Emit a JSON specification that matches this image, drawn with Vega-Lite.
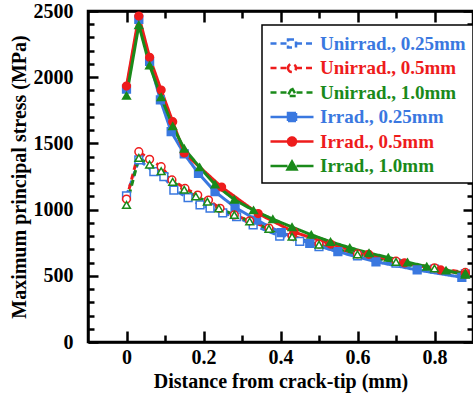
{
  "$schema": "https://vega.github.io/schema/vega-lite/v6.json",
  "width": 385,
  "height": 331,
  "autosize": {"type": "none"},
  "padding": {"left": 88, "top": 11, "right": 0, "bottom": 56},
  "config": {
    "view": {"stroke": "black", "strokeWidth": 2.5},
    "font": "Liberation Serif",
    "axis": {
      "domainColor": "black", "domainWidth": 2.5,
      "tickColor": "black", "tickWidth": 2.5,
      "labelFont": "Liberation Serif", "labelFontWeight": "bold", "labelFontSize": 20, "labelColor": "black",
      "titleFont": "Liberation Serif", "titleFontWeight": "bold", "titleFontSize": 20, "titleColor": "black",
      "grid": false
    }
  },
  "data": {"values": [
    {"s": "Unirrad., 0.25mm", "x": 0, "y": 1103},
    {"s": "Unirrad., 0.25mm", "x": 0.032, "y": 1375},
    {"s": "Unirrad., 0.25mm", "x": 0.071, "y": 1286},
    {"s": "Unirrad., 0.25mm", "x": 0.097, "y": 1249},
    {"s": "Unirrad., 0.25mm", "x": 0.123, "y": 1148},
    {"s": "Unirrad., 0.25mm", "x": 0.16, "y": 1090},
    {"s": "Unirrad., 0.25mm", "x": 0.191, "y": 1035},
    {"s": "Unirrad., 0.25mm", "x": 0.217, "y": 1012},
    {"s": "Unirrad., 0.25mm", "x": 0.25, "y": 975},
    {"s": "Unirrad., 0.25mm", "x": 0.286, "y": 946},
    {"s": "Unirrad., 0.25mm", "x": 0.329, "y": 884},
    {"s": "Unirrad., 0.25mm", "x": 0.398, "y": 800},
    {"s": "Unirrad., 0.25mm", "x": 0.45, "y": 760},
    {"s": "Unirrad., 0.25mm", "x": 0.5, "y": 720},
    {"s": "Unirrad., 0.25mm", "x": 0.6, "y": 650},
    {"s": "Unirrad., 0.25mm", "x": 0.7, "y": 595},
    {"s": "Unirrad., 0.25mm", "x": 0.8, "y": 550},
    {"s": "Unirrad., 0.25mm", "x": 0.88, "y": 515},
    {"s": "Unirrad., 0.5mm", "x": 0, "y": 1080},
    {"s": "Unirrad., 0.5mm", "x": 0.032, "y": 1437},
    {"s": "Unirrad., 0.5mm", "x": 0.06, "y": 1380},
    {"s": "Unirrad., 0.5mm", "x": 0.09, "y": 1324},
    {"s": "Unirrad., 0.5mm", "x": 0.118, "y": 1224},
    {"s": "Unirrad., 0.5mm", "x": 0.152, "y": 1160},
    {"s": "Unirrad., 0.5mm", "x": 0.185, "y": 1110},
    {"s": "Unirrad., 0.5mm", "x": 0.213, "y": 1072},
    {"s": "Unirrad., 0.5mm", "x": 0.243, "y": 1010},
    {"s": "Unirrad., 0.5mm", "x": 0.28, "y": 960},
    {"s": "Unirrad., 0.5mm", "x": 0.32, "y": 915},
    {"s": "Unirrad., 0.5mm", "x": 0.37, "y": 860},
    {"s": "Unirrad., 0.5mm", "x": 0.43, "y": 800},
    {"s": "Unirrad., 0.5mm", "x": 0.5, "y": 740},
    {"s": "Unirrad., 0.5mm", "x": 0.6, "y": 665},
    {"s": "Unirrad., 0.5mm", "x": 0.7, "y": 610},
    {"s": "Unirrad., 0.5mm", "x": 0.8, "y": 560},
    {"s": "Unirrad., 0.5mm", "x": 0.88, "y": 525},
    {"s": "Unirrad., 1.0mm", "x": 0, "y": 1035},
    {"s": "Unirrad., 1.0mm", "x": 0.032, "y": 1390},
    {"s": "Unirrad., 1.0mm", "x": 0.06, "y": 1340},
    {"s": "Unirrad., 1.0mm", "x": 0.09, "y": 1290},
    {"s": "Unirrad., 1.0mm", "x": 0.12, "y": 1210},
    {"s": "Unirrad., 1.0mm", "x": 0.15, "y": 1150},
    {"s": "Unirrad., 1.0mm", "x": 0.18, "y": 1100},
    {"s": "Unirrad., 1.0mm", "x": 0.21, "y": 1060},
    {"s": "Unirrad., 1.0mm", "x": 0.24, "y": 1010},
    {"s": "Unirrad., 1.0mm", "x": 0.28, "y": 960},
    {"s": "Unirrad., 1.0mm", "x": 0.32, "y": 910},
    {"s": "Unirrad., 1.0mm", "x": 0.37, "y": 855},
    {"s": "Unirrad., 1.0mm", "x": 0.43, "y": 795},
    {"s": "Unirrad., 1.0mm", "x": 0.5, "y": 735},
    {"s": "Unirrad., 1.0mm", "x": 0.6, "y": 662},
    {"s": "Unirrad., 1.0mm", "x": 0.7, "y": 605},
    {"s": "Unirrad., 1.0mm", "x": 0.8, "y": 555},
    {"s": "Unirrad., 1.0mm", "x": 0.88, "y": 520},
    {"s": "Irrad., 0.25mm", "x": 0, "y": 1910},
    {"s": "Irrad., 0.25mm", "x": 0.032, "y": 2437},
    {"s": "Irrad., 0.25mm", "x": 0.06, "y": 2120},
    {"s": "Irrad., 0.25mm", "x": 0.088, "y": 1828},
    {"s": "Irrad., 0.25mm", "x": 0.116, "y": 1589},
    {"s": "Irrad., 0.25mm", "x": 0.15, "y": 1420},
    {"s": "Irrad., 0.25mm", "x": 0.187, "y": 1274},
    {"s": "Irrad., 0.25mm", "x": 0.23, "y": 1135},
    {"s": "Irrad., 0.25mm", "x": 0.282, "y": 1017},
    {"s": "Irrad., 0.25mm", "x": 0.338, "y": 921},
    {"s": "Irrad., 0.25mm", "x": 0.402, "y": 826},
    {"s": "Irrad., 0.25mm", "x": 0.476, "y": 745},
    {"s": "Irrad., 0.25mm", "x": 0.549, "y": 682},
    {"s": "Irrad., 0.25mm", "x": 0.648, "y": 606},
    {"s": "Irrad., 0.25mm", "x": 0.755, "y": 544},
    {"s": "Irrad., 0.25mm", "x": 0.871, "y": 489},
    {"s": "Irrad., 0.5mm", "x": 0, "y": 1933},
    {"s": "Irrad., 0.5mm", "x": 0.032, "y": 2462},
    {"s": "Irrad., 0.5mm", "x": 0.06, "y": 2150},
    {"s": "Irrad., 0.5mm", "x": 0.09, "y": 1903},
    {"s": "Irrad., 0.5mm", "x": 0.12, "y": 1664},
    {"s": "Irrad., 0.5mm", "x": 0.15, "y": 1428},
    {"s": "Irrad., 0.5mm", "x": 0.247, "y": 1170},
    {"s": "Irrad., 0.5mm", "x": 0.342, "y": 970},
    {"s": "Irrad., 0.5mm", "x": 0.435, "y": 830},
    {"s": "Irrad., 0.5mm", "x": 0.53, "y": 740},
    {"s": "Irrad., 0.5mm", "x": 0.629, "y": 662},
    {"s": "Irrad., 0.5mm", "x": 0.722, "y": 597},
    {"s": "Irrad., 0.5mm", "x": 0.816, "y": 544},
    {"s": "Irrad., 0.5mm", "x": 0.88, "y": 512},
    {"s": "Irrad., 1.0mm", "x": 0, "y": 1860},
    {"s": "Irrad., 1.0mm", "x": 0.032, "y": 2394},
    {"s": "Irrad., 1.0mm", "x": 0.06, "y": 2090},
    {"s": "Irrad., 1.0mm", "x": 0.09, "y": 1850},
    {"s": "Irrad., 1.0mm", "x": 0.12, "y": 1630},
    {"s": "Irrad., 1.0mm", "x": 0.15, "y": 1460},
    {"s": "Irrad., 1.0mm", "x": 0.19, "y": 1320},
    {"s": "Irrad., 1.0mm", "x": 0.23, "y": 1190},
    {"s": "Irrad., 1.0mm", "x": 0.28, "y": 1075},
    {"s": "Irrad., 1.0mm", "x": 0.33, "y": 995},
    {"s": "Irrad., 1.0mm", "x": 0.38, "y": 928},
    {"s": "Irrad., 1.0mm", "x": 0.43, "y": 868},
    {"s": "Irrad., 1.0mm", "x": 0.48, "y": 810},
    {"s": "Irrad., 1.0mm", "x": 0.53, "y": 757},
    {"s": "Irrad., 1.0mm", "x": 0.58, "y": 712},
    {"s": "Irrad., 1.0mm", "x": 0.63, "y": 672},
    {"s": "Irrad., 1.0mm", "x": 0.68, "y": 638},
    {"s": "Irrad., 1.0mm", "x": 0.73, "y": 602},
    {"s": "Irrad., 1.0mm", "x": 0.78, "y": 570},
    {"s": "Irrad., 1.0mm", "x": 0.83, "y": 540},
    {"s": "Irrad., 1.0mm", "x": 0.88, "y": 508}
  ]},
  "layer": [
    {
      "mark": {"type": "line", "strokeWidth": 3, "clip": true},
      "encoding": {
        "x": {"field": "x", "type": "quantitative", "scale": {"domain": [-0.1, 0.9], "nice": false, "zero": false}, "axis": {
          "values": [0, 0.1, 0.2, 0.3, 0.4, 0.5, 0.6, 0.7, 0.8],
          "labelExpr": "round(datum.value*10)%2==0 ? (datum.value==0 ? '0' : format(datum.value, '.1f')) : ''",
          "tickSize": {"condition": {"test": "round(datum.value*10)%2==0", "value": -11}, "value": -7},
          "labelPadding": 16,
          "title": "Distance from crack-tip (mm)", "titlePadding": 4
        }},
        "y": {"field": "y", "type": "quantitative", "scale": {"domain": [0, 2500], "nice": false}, "axis": {
          "values": [0, 100, 200, 300, 400, 500, 600, 700, 800, 900, 1000, 1100, 1200, 1300, 1400, 1500, 1600, 1700, 1800, 1900, 2000, 2100, 2200, 2300, 2400, 2500],
          "format": "d",
          "labelExpr": "datum.value%500==0 ? datum.label : ''",
          "tickSize": {"condition": {"test": "datum.value%500==0", "value": -10}, "value": -6},
          "labelPadding": 25,
          "title": "Maximum principal stress (MPa)", "titlePadding": 4
        }},
        "color": {"field": "s", "type": "nominal",
          "scale": {
            "domain": ["Unirrad., 0.25mm", "Unirrad., 0.5mm", "Unirrad., 1.0mm", "Irrad., 0.25mm", "Irrad., 0.5mm", "Irrad., 1.0mm"],
            "range": ["#3a78e0", "#ee1c1c", "#1a8a1a", "#3a78e0", "#ee1c1c", "#1a8a1a"]
          },
          "legend": {
            "title": null, "orient": "none", "legendX": 174, "legendY": 14,
            "strokeColor": "black", "fillColor": "white", "padding": 7,
            "labelFont": "Liberation Serif", "labelFontWeight": "bold", "labelFontSize": 19,
            "labelOffset": 28, "rowPadding": 2.5,
            "symbolSize": 400, "symbolStrokeWidth": 2.5,
            "encode": {
              "legend": {"update": {"strokeWidth": {"value": 1.5}}},
              "symbols": {"update": {
                "shape": {"signal": "indexof(datum.value,'0.25')>=0 ? 'M-1 0H0.75M1.55 0H3.3M0.75 -0.4H1.55V0.4H0.75Z' : (indexof(datum.value,'0.5mm')>=0 ? 'M-1 0H0.75M1.55 0H3.3M0.75 0A0.4 0.4 0 1 0 1.55 0A0.4 0.4 0 1 0 0.75 0Z' : 'M-1 0H0.7M1.6 0H3.3M1.15 -0.45L1.6 0.35H0.7Z')"},
                "fill": {"signal": "indexof(datum.value,'Unirrad')==0 ? 'white' : scale('color', datum.value)"},
                "stroke": {"signal": "scale('color', datum.value)"},
                "strokeDash": {"signal": "indexof(datum.value,'Unirrad')==0 ? [6,4] : [1,0]"},
                "opacity": {"value": 1}
              }},
              "labels": {"update": {"fill": {"signal": "scale('color', datum.value)"}}}
            }
          }
        },
        "strokeDash": {"field": "s", "type": "nominal",
          "scale": {
            "domain": ["Unirrad., 0.25mm", "Unirrad., 0.5mm", "Unirrad., 1.0mm", "Irrad., 0.25mm", "Irrad., 0.5mm", "Irrad., 1.0mm"],
            "range": [[6, 4], [6, 4], [6, 4], [1, 0], [1, 0], [1, 0]]
          },
          "legend": null
        }
      }
    },
    {
      "transform": [{"filter": {"field": "s", "oneOf": ["Unirrad., 0.25mm", "Irrad., 0.25mm"]}}],
      "mark": {"type": "point", "shape": "square", "filled": false, "strokeWidth": 1.5, "size": 60, "opacity": 1, "clip": true},
      "encoding": {
        "x": {"field": "x", "type": "quantitative", "axis": null},
        "y": {"field": "y", "type": "quantitative", "axis": null},
        "color": {"field": "s", "type": "nominal"},
        "fill": {"field": "s", "type": "nominal",
          "scale": {
            "domain": ["Unirrad., 0.25mm", "Unirrad., 0.5mm", "Unirrad., 1.0mm", "Irrad., 0.25mm", "Irrad., 0.5mm", "Irrad., 1.0mm"],
            "range": ["white", "white", "white", "#3a78e0", "#ee1c1c", "#1a8a1a"]
          },
          "legend": null
        }
      }
    },
    {
      "transform": [{"filter": {"field": "s", "oneOf": ["Unirrad., 0.5mm", "Irrad., 0.5mm"]}}],
      "mark": {"type": "point", "shape": "circle", "filled": false, "strokeWidth": 1.5, "size": 60, "opacity": 1, "clip": true},
      "encoding": {
        "x": {"field": "x", "type": "quantitative", "axis": null},
        "y": {"field": "y", "type": "quantitative", "axis": null},
        "color": {"field": "s", "type": "nominal"},
        "fill": {"field": "s", "type": "nominal", "legend": null}
      }
    },
    {
      "transform": [{"filter": {"field": "s", "oneOf": ["Unirrad., 1.0mm", "Irrad., 1.0mm"]}}],
      "mark": {"type": "point", "shape": "triangle-up", "filled": false, "strokeWidth": 1.5, "size": 60, "opacity": 1, "clip": true},
      "encoding": {
        "x": {"field": "x", "type": "quantitative", "axis": null},
        "y": {"field": "y", "type": "quantitative", "axis": null},
        "color": {"field": "s", "type": "nominal"},
        "fill": {"field": "s", "type": "nominal", "legend": null}
      }
    },
    {
      "mark": {"type": "point", "opacity": 0},
      "encoding": {
        "x": {"field": "x", "type": "quantitative", "axis": {
          "orient": "top", "labels": false, "title": null,
          "values": [0, 0.1, 0.2, 0.3, 0.4, 0.5, 0.6, 0.7, 0.8],
          "tickSize": {"condition": {"test": "round(datum.value*10)%2==0", "value": -11}, "value": -7}
        }},
        "y": {"field": "y", "type": "quantitative", "axis": {
          "orient": "right", "labels": false, "title": null,
          "values": [0, 100, 200, 300, 400, 500, 600, 700, 800, 900, 1000, 1100, 1200, 1300, 1400, 1500, 1600, 1700, 1800, 1900, 2000, 2100, 2200, 2300, 2400, 2500],
          "tickSize": {"condition": {"test": "datum.value%500==0", "value": -10}, "value": -6}
        }}
      }
    }
  ],
  "resolve": {"axis": {"x": "independent", "y": "independent"}}
}
